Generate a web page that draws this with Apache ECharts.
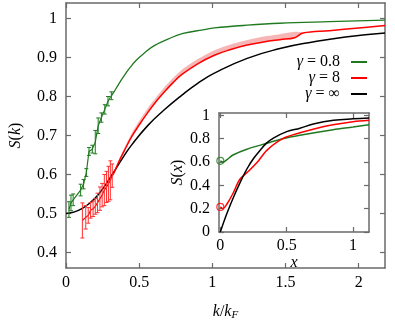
<!DOCTYPE html>
<html>
<head>
<meta charset="utf-8">
<script src="https://cdn.jsdelivr.net/npm/echarts@6/dist/echarts.min.js"></script>
<style>
html,body{margin:0;padding:0;background:#fff;}
#c{width:395px;height:326px;}
</style>
</head>
<body>
<div id="c"></div>
<script>
// ---------- data ----------
// gamma = 0.8 : points with error bars
const greenErrK = [0.02, 0.034, 0.049, 0.1, 0.12, 0.139, 0.157, 0.18, 0.2, 0.22, 0.242, 0.265, 0.287, 0.31];
const greenErrS = [0.51, 0.527, 0.535, 0.56, 0.575, 0.605, 0.659, 0.665, 0.683, 0.725, 0.746, 0.767, 0.788, 0.802];
const greenErrE = [0.02, 0.02, 0.015, 0.015, 0.012, 0.01, 0.01, 0.01, 0.03, 0.02, 0.012, 0.012, 0.012, 0.01];
// gamma = 0.8 : continuation line
const greenLineK = [0.33, 0.36, 0.4, 0.437, 0.48, 0.53, 0.6, 0.7, 0.8, 0.935, 1.014, 1.238, 1.462, 1.8, 2.18];
const greenLineS = [0.813, 0.832, 0.855, 0.874, 0.893, 0.91, 0.93, 0.948, 0.962, 0.971, 0.976, 0.983, 0.988, 0.992, 0.996];

// gamma = 8 : points with error bars
const redErrK = [0.112, 0.135, 0.152, 0.168, 0.185, 0.2, 0.215, 0.232, 0.247, 0.262, 0.277, 0.29, 0.303, 0.316];
const redErrS = [0.482, 0.49, 0.495, 0.508, 0.512, 0.518, 0.527, 0.538, 0.547, 0.56, 0.568, 0.576, 0.585, 0.597];
const redErrE = [0.045, 0.03, 0.02, 0.02, 0.02, 0.02, 0.025, 0.03, 0.03, 0.04, 0.04, 0.045, 0.05, 0.03];
// gamma = 8 : continuation line
const redLineK = [0.33, 0.36, 0.4, 0.449, 0.5, 0.561, 0.62, 0.673, 0.73, 0.79, 0.9, 1.014, 1.12, 1.238, 1.35, 1.462, 1.563, 1.62, 1.8, 2.0, 2.18];
const redLineS = [0.606, 0.632, 0.662, 0.697, 0.727, 0.76, 0.789, 0.812, 0.835, 0.856, 0.884, 0.906, 0.92, 0.932, 0.94, 0.946, 0.951, 0.963, 0.969, 0.976, 0.982];
// gamma = 8 : uncertainty band
const bandK  = [0.33, 0.36, 0.4, 0.449, 0.5, 0.561, 0.62, 0.673, 0.73, 0.79, 0.9, 1.014, 1.12, 1.238, 1.35, 1.462, 1.563, 1.62];
const bandLo = [0.606, 0.632, 0.662, 0.697, 0.727, 0.76, 0.789, 0.812, 0.835, 0.856, 0.884, 0.906, 0.92, 0.932, 0.94, 0.946, 0.951, 0.963];
const bandHi = [0.607, 0.636, 0.669, 0.706, 0.737, 0.771, 0.8, 0.824, 0.847, 0.868, 0.896, 0.919, 0.933, 0.945, 0.954, 0.96, 0.966, 0.964];

// gamma = infinity
const blackK = [0, 0.05, 0.112, 0.17, 0.224, 0.28, 0.336, 0.39, 0.449, 0.56, 0.666, 0.79, 0.9, 1.014, 1.238, 1.462, 1.687, 1.91, 2.18];
const blackS = [0.5, 0.503, 0.513, 0.529, 0.55, 0.579, 0.612, 0.644, 0.676, 0.726, 0.764, 0.803, 0.834, 0.86, 0.898, 0.923, 0.94, 0.953, 0.963];

// inset S(x)
const insetGreenX = [0, 0.02, 0.05, 0.095, 0.2, 0.35, 0.47, 0.6, 0.85, 1.0, 1.12];
const insetGreenS = [0.61, 0.6, 0.62, 0.66, 0.71, 0.76, 0.8, 0.83, 0.877, 0.9, 0.92];
const insetRedX = [0, 0.02, 0.05, 0.095, 0.146, 0.22, 0.28, 0.35, 0.47, 0.6, 0.78, 0.85, 1.0, 1.12];
const insetRedS = [0.215, 0.2, 0.24, 0.33, 0.45, 0.53, 0.6, 0.7, 0.8, 0.85, 0.905, 0.92, 0.945, 0.957];
const insetBlackX = [0, 0.05, 0.1, 0.146, 0.2, 0.25, 0.3, 0.348, 0.4, 0.5, 0.6, 0.7, 0.853, 1.0, 1.12];
const insetBlackS = [0, 0.16, 0.3, 0.417, 0.54, 0.63, 0.7, 0.762, 0.805, 0.86, 0.89, 0.925, 0.957, 0.97, 0.977];

// ticks
const mainXTicks = [0, 0.5, 1, 1.5, 2];
const mainYTicks = [0.4, 0.5, 0.6, 0.7, 0.8, 0.9, 1];
const insetXTicks = [0, 0.5, 1];
const insetYTicks = [0, 0.2, 0.4, 0.6, 0.8, 1];

const names = ['γ = 0.8', 'γ = 8', 'γ = ∞'];

// ---------- styling ----------
const GREEN = '#1f7a1f', RED = '#ff0000', BLACK = '#000000', PINK = '#f7b6b6';
const FONT = "'Liberation Serif', 'DejaVu Serif', serif";
const AX = '#6a6a6a';

function zip(a, b) { return a.map((v, i) => [v, b[i]]); }
function zip3(a, b, c) { return a.map((v, i) => [v, b[i], c[i]]); }

function makeAxis(grid, pos, min, max, ticks, labels, margin, extra) {
  return Object.assign({
    type: 'value', gridIndex: grid, position: pos, min: min, max: max,
    axisLine: { show: true, onZero: false, lineStyle: { color: AX, width: 1.5 } },
    axisTick: { show: true, inside: true, length: 5, customValues: ticks, lineStyle: { color: AX, width: 1.2 } },
    axisLabel: labels ? { show: true, customValues: ticks, fontFamily: FONT, fontSize: 16, color: '#000', margin: margin } : { show: false },
    splitLine: { show: false }
  }, extra || {});
}

const rich = {
  i: { fontFamily: FONT, fontStyle: 'italic', fontSize: 16, color: '#000' },
  n: { fontFamily: FONT, fontSize: 16, color: '#000' },
  s: { fontFamily: FONT, fontStyle: 'italic', fontSize: 11, color: '#000', padding: [8, 0, 0, 0] }
};

function errRender(color) {
  return function (params, api) {
    const x = api.value(0), y = api.value(1), e = api.value(2);
    const t = api.coord([x, y + e]);
    const b = api.coord([x, y - e]);
    const w = 2;
    const st = { stroke: color, lineWidth: 1 };
    return {
      type: 'group',
      children: [
        { type: 'line', shape: { x1: t[0], y1: t[1], x2: b[0], y2: b[1] }, style: st },
        { type: 'line', shape: { x1: t[0] - w, y1: t[1], x2: t[0] + w, y2: t[1] }, style: st },
        { type: 'line', shape: { x1: b[0] - w, y1: b[1], x2: b[0] + w, y2: b[1] }, style: st }
      ]
    };
  };
}

const lastRed = [redErrK[redErrK.length - 1], redErrS[redErrS.length - 1]];
const lastGreen = [greenErrK[greenErrK.length - 1], greenErrS[greenErrS.length - 1]];

const option = {
  animation: false,
  backgroundColor: '#fff',
  grid: [
    { left: 61, top: 3, width: 324, height: 274, show: false },
    { left: 219, top: 113, width: 150, height: 119, show: true, backgroundColor: '#fff', borderWidth: 0 }
  ],
  legend: {
    data: names,
    orient: 'vertical',
    right: 23,
    top: 49,
    align: 'right',
    icon: 'rect',
    itemWidth: 16,
    itemHeight: 2,
    itemGap: 0,
    formatter: function (n) { return n.replace('γ', '{i|γ}').replace(/ = (.*)$/, '{n| = $1}'); },
    textStyle: { fontFamily: FONT, fontSize: 16, color: '#000', padding: [0, 6, 0, 0], lineHeight: 15, rich: rich }
  },
  xAxis: [
    makeAxis(0, 'bottom', 0, 2.18, mainXTicks, true, 7, {
      name: '{i|k}{n|/}{i|k}{s|F}', nameLocation: 'middle', nameGap: 34,
      nameTextStyle: { rich: rich }
    }),
    makeAxis(0, 'top', 0, 2.18, mainXTicks, false, 0),
    makeAxis(1, 'bottom', -0.01, 1.12, insetXTicks, true, 6, {
      name: '{i|x}', nameLocation: 'middle', nameGap: 20,
      nameTextStyle: { rich: rich }
    }),
    makeAxis(1, 'top', -0.01, 1.12, insetXTicks, false, 0)
  ],
  yAxis: [
    makeAxis(0, 'left', 0.36, 1.04, mainYTicks, true, 9, {
      name: '{i|S}{n|(}{i|k}{n|)}', nameLocation: 'middle', nameGap: 42,
      nameTextStyle: { rich: rich }
    }),
    makeAxis(0, 'right', 0.36, 1.04, mainYTicks, false, 0),
    makeAxis(1, 'left', 0, 1.02, insetYTicks, true, 9, {
      name: '{i|S}{n|(}{i|x}{n|)}', nameLocation: 'middle', nameGap: 30,
      nameTextStyle: { rich: rich }
    }),
    makeAxis(1, 'right', 0, 1.02, insetYTicks, false, 0)
  ],
  series: [
    // band for gamma = 8
    {
      type: 'custom', xAxisIndex: 0, yAxisIndex: 0, z: 1,
      data: [[0]],
      renderItem: function (params, api) {
        const pts = [];
        for (let i = 0; i < bandK.length; i++) pts.push(api.coord([bandK[i], bandHi[i]]));
        for (let i = bandK.length - 1; i >= 0; i--) pts.push(api.coord([bandK[i], bandLo[i]]));
        return { type: 'polygon', shape: { points: pts, smooth: 0.2 }, style: { fill: PINK } };
      }
    },
    {
      name: names[2], type: 'line', xAxisIndex: 0, yAxisIndex: 0, z: 3,
      data: zip(blackK, blackS), showSymbol: false, smooth: 0.5,
      itemStyle: { color: BLACK }, lineStyle: { color: BLACK, width: 1.5 }
    },
    {
      type: 'line', xAxisIndex: 0, yAxisIndex: 0, z: 3,
      data: zip(greenErrK, greenErrS), showSymbol: false,
      itemStyle: { color: GREEN }, lineStyle: { color: GREEN, width: 1.2 }
    },
    {
      name: names[0], type: 'line', xAxisIndex: 0, yAxisIndex: 0, z: 3,
      data: [lastGreen].concat(zip(greenLineK, greenLineS)), showSymbol: false, smooth: 0.4,
      itemStyle: { color: GREEN }, lineStyle: { color: GREEN, width: 1.3 }
    },
    {
      type: 'line', xAxisIndex: 0, yAxisIndex: 0, z: 3,
      data: zip(redErrK, redErrS), showSymbol: false,
      itemStyle: { color: RED }, lineStyle: { color: RED, width: 1.2 }
    },
    {
      name: names[1], type: 'line', xAxisIndex: 0, yAxisIndex: 0, z: 3,
      data: [lastRed].concat(zip(redLineK, redLineS)), showSymbol: false, smooth: 0.4,
      itemStyle: { color: RED }, lineStyle: { color: RED, width: 1.5 }
    },
    {
      type: 'custom', xAxisIndex: 0, yAxisIndex: 0, z: 4,
      data: zip3(greenErrK, greenErrS, greenErrE), renderItem: errRender(GREEN)
    },
    {
      type: 'custom', xAxisIndex: 0, yAxisIndex: 0, z: 4,
      data: zip3(redErrK, redErrS, redErrE), renderItem: errRender('#ff3030')
    },
    // inset
    {
      type: 'line', xAxisIndex: 2, yAxisIndex: 2, z: 6,
      data: zip(insetGreenX, insetGreenS), showSymbol: false, smooth: 0.3,
      lineStyle: { color: GREEN, width: 1.5 }, itemStyle: { color: GREEN }
    },
    {
      type: 'line', xAxisIndex: 2, yAxisIndex: 2, z: 6,
      data: zip(insetRedX, insetRedS), showSymbol: false, smooth: 0.3,
      lineStyle: { color: RED, width: 1.5 }, itemStyle: { color: RED }
    },
    {
      type: 'line', xAxisIndex: 2, yAxisIndex: 2, z: 6,
      data: zip(insetBlackX, insetBlackS), showSymbol: false, smooth: 0.4,
      lineStyle: { color: BLACK, width: 1.5 }, itemStyle: { color: BLACK }
    },
    {
      type: 'scatter', xAxisIndex: 2, yAxisIndex: 2, z: 7,
      data: [[insetGreenX[0], insetGreenS[0]]], symbol: 'circle', symbolSize: 7,
      itemStyle: { color: 'rgba(0,0,0,0)', borderColor: GREEN, borderWidth: 1.2 }
    },
    {
      type: 'scatter', xAxisIndex: 2, yAxisIndex: 2, z: 7,
      data: [[insetRedX[0], insetRedS[0]]], symbol: 'circle', symbolSize: 7,
      itemStyle: { color: 'rgba(0,0,0,0)', borderColor: RED, borderWidth: 1.2 }
    }
  ]
};

const chart = echarts.init(document.getElementById('c'), null, { renderer: 'canvas' });
chart.setOption(option);
</script>
</body>
</html>
